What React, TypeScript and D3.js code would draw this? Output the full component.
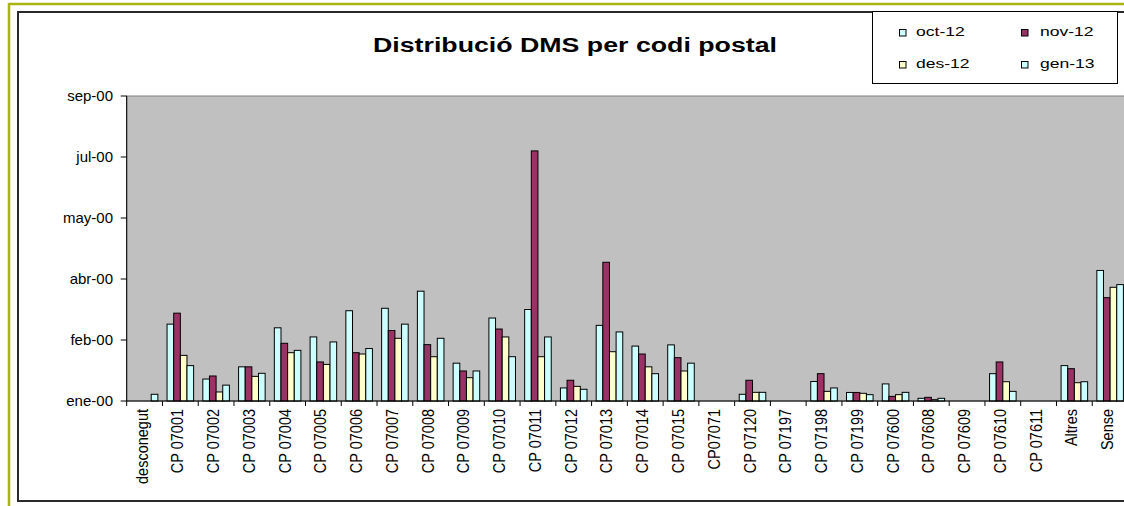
import React from "react";
import * as d3 from "d3";

const categories = [
  "desconegut", "CP 07001", "CP 07002", "CP 07003", "CP 07004", "CP 07005", "CP 07006",
  "CP 07007", "CP 07008", "CP 07009", "CP 07010", "CP 07011", "CP 07012", "CP 07013",
  "CP 07014", "CP 07015", "CP07071", "CP 07120", "CP 07197", "CP 07198", "CP 07199",
  "CP 07600", "CP 07608", "CP 07609", "CP 07610", "CP 07611", "Altres", "Sense",
];
const oct12 = [0, 63, 18, 28, 60, 52.5, 74, 76, 90, 31, 68, 75, 10.7, 62, 45, 46, 0, 5.5, 0, 16, 7, 14, 2.2, 0, 22.4, 0, 29, 107];
const nov12 = [0, 72, 20.5, 28, 47.3, 32, 39.6, 57.8, 46.2, 24.6, 59, 205, 17, 113.7, 38.5, 35.5, 0, 17, 0, 22.4, 7, 3.8, 3, 0, 32, 0, 26.5, 84.7];
const des12 = [0, 37.4, 7.4, 20.2, 39.6, 30, 38.5, 51.4, 36.3, 19.1, 52.5, 36.3, 12, 40.4, 28, 24.6, 0, 7.1, 0, 7.9, 6.3, 5.2, 1.1, 0, 15.8, 0, 15, 93.2];
const gen13 = [5.5, 29, 13, 22.7, 41.5, 48.4, 43, 63, 51.4, 24.6, 36.3, 52.5, 9.6, 56.6, 22.4, 31, 0, 7.1, 0, 10.7, 5.2, 7.1, 2.2, 0, 7.9, 0, 15.8, 95.4];
const seriesNames = ["oct-12", "nov-12", "des-12", "gen-13"];
const seriesColors = ["#CCFFFF", "#993366", "#FFFFCC", "#CCFFFF"];
const yTickValues = [0, 50, 100, 150, 200, 250];
const yTickLabels = ["ene-00", "feb-00", "abr-00", "may-00", "jul-00", "sep-00"];

const FONT = "'Liberation Sans', Arial, sans-serif";

export default function App() {
  const W = 1124, H = 506;
  const left = 126.7, right = 1128, top = 96, bottom = 401;
  const x = d3.scaleBand<string>().domain(categories).range([left, right]).paddingInner(0).paddingOuter(0);
  const bw = x.bandwidth();
  const groupPad = 4.6;
  const xs = d3.scaleBand<string>().domain(seriesNames).range([groupPad, bw - groupPad]).padding(0);
  const y = d3.scaleLinear().domain([0, 250]).range([bottom, top]);
  const series = [oct12, nov12, des12, gen13];

  return (
    <svg width={W} height={H} style={{ position: "absolute", left: 0, top: 0, display: "block", background: "#fff" }} fontFamily={FONT}>
      {/* outer olive frame */}
      <line x1={9} y1={4} x2={W} y2={4} stroke="#a9b412" strokeWidth={2.5} />
      <line x1={9} y1={3} x2={9} y2={H} stroke="#a9b412" strokeWidth={2.5} />
      {/* chart border */}
      <rect x={18} y={12} width={W + 20} height={489} fill="#fff" stroke="#2a2a2a" strokeWidth={2} />
      {/* plot area */}
      <rect x={left} y={top} width={right - left} height={bottom - top} fill="#C0C0C0" stroke="#808080" strokeWidth={1} />
      {/* title */}
      <text x={373} y={52} fontSize={20} fontWeight="bold" fill="#000" textLength={404} lengthAdjust="spacingAndGlyphs">Distribució DMS per codi postal</text>
      {/* bars */}
      {categories.map((c, i) => (
        <g key={c}>
          {series.map((s, j) => {
            const v = s[i];
            if (!v) return null;
            const bx = (x(c) as number) + (xs(seriesNames[j]) as number);
            return (
              <rect key={j} x={bx} y={y(v)} width={xs.bandwidth()} height={y(0) - y(v)}
                fill={seriesColors[j]} stroke="#000" strokeWidth={1} />
            );
          })}
        </g>
      ))}
      {/* y axis */}
      <line x1={left} y1={top} x2={left} y2={bottom} stroke="#000" strokeWidth={1} />
      {yTickValues.map((v, i) => (
        <g key={v}>
          <line x1={left - 6} x2={left} y1={y(v)} y2={y(v)} stroke="#000" />
          <text x={113} y={y(v) + 5} textAnchor="end" fontSize={15} fill="#000">{yTickLabels[i]}</text>
        </g>
      ))}
      {/* x axis */}
      <line x1={left} y1={bottom} x2={right} y2={bottom} stroke="#000" strokeWidth={1} />
      {categories.map((c) => (
        <line key={"t" + c} x1={x(c) as number} x2={x(c) as number} y1={bottom} y2={bottom + 5} stroke="#000" />
      ))}
      {categories.map((c) => {
        const cx = (x(c) as number) + bw / 2;
        return (
          <text key={"l" + c} transform={`translate(${cx + 3},409) scale(1.1,1) rotate(-90)`} textAnchor="end" fontSize={14.5} fill="#000">{c}</text>
        );
      })}
      {/* legend */}
      <rect x={872.5} y={11.5} width={245} height={72} fill="#fff" stroke="#000" strokeWidth={1} />
      {seriesNames.map((n, i) => {
        const col = i % 2, row = Math.floor(i / 2);
        const lx = 899 + col * 122, ly = 29.5 + row * 32;
        return (
          <g key={n}>
            <rect x={lx + 0.5} y={ly} width={6.5} height={6.5} fill={seriesColors[i]} stroke="#000" strokeWidth={1} />
            <text transform={`translate(${lx + 17 + col * 2},${ly + 6.5}) scale(1.3,1)`} fontSize={13.5} fill="#000">{n}</text>
          </g>
        );
      })}
    </svg>
  );
}
